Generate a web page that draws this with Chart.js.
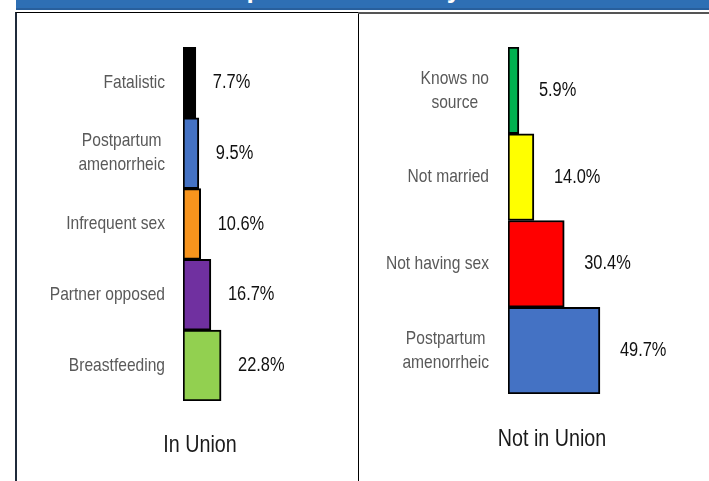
<!DOCTYPE html>
<html>
<head>
<meta charset="utf-8">
<script src="https://cdn.jsdelivr.net/npm/chart.js@4"></script>
<style>
  body { margin: 0; width: 709px; height: 481px; overflow: hidden; background: #fff; position: relative; font-family: "Liberation Sans", sans-serif; }
  #banner { position: absolute; left: 16px; top: 0; width: 693px; height: 8px; background: #2e6fb4; border-bottom: 2px solid #285f9c; overflow: hidden; }
  #banner span { position: absolute; left: 0; width: 100%; text-align: center; top: -24px; font: bold 26px "Liberation Sans", sans-serif; line-height: 26px; color: #fff; }
  #leftPanel { position: absolute; left: 15px; top: 12px; width: 341px; height: 480px; border-top: 1px solid #000; border-left: 2px solid #1f2a3a; border-right: 1px solid #000; }
  #rightPanel { position: absolute; left: 358px; top: 12px; width: 360px; height: 480px; border-top: 2px solid #555; }
  canvas { position: absolute; }
  .ptitle { position: absolute; font-size: 24px; color: #1a1a1a; text-align: center; width: 200px; transform: scaleX(0.82); }
</style>
</head>
<body>
<div id="banner"><span>Unexposed Women by Union</span></div>
<div id="leftPanel"></div>
<div id="rightPanel"></div>
<canvas id="inUnion" width="341" height="468" style="left:16px;top:13px"></canvas>
<canvas id="notInUnion" width="351" height="467" style="left:358px;top:14px"></canvas>
<div class="ptitle" style="left:100px;top:430px">In Union</div>
<div class="ptitle" style="left:452px;top:424px">Not in Union</div>
<script>
// Reasons women are not exposed, by union status
const inUnionLabels = [['Fatalistic'], ['Postpartum', 'amenorrheic'], ['Infrequent sex'], ['Partner opposed'], ['Breastfeeding']];
const inUnionValues = [7.7, 9.5, 10.6, 16.7, 22.8];
const inUnionColors = ['#000000', '#4472c4', '#f7941d', '#7030a0', '#92d050'];

const notInUnionLabels = [['Knows no', 'source'], ['Not married'], ['Not having sex'], ['Postpartum', 'amenorrheic']];
const notInUnionValues = [5.9, 14.0, 30.4, 49.7];
const notInUnionColors = ['#00b050', '#ffff00', '#ff0000', '#4472c4'];

const FONT = '"Liberation Sans", sans-serif';
const SQUEEZE = 0.82; // narrow look of the original face

function narrowText(c, t, x, y) {
    c.save();
    c.translate(x, y);
    c.scale(SQUEEZE, 1);
    c.fillText(t, 0, 0);
    c.restore();
}

// draws the category names left of the bars and the values right of them
const barText = {
    id: 'barText',
    afterDatasetsDraw(chart, args, opts) {
        const c = chart.ctx;
        const y = chart.scales.y;
        const meta = chart.getDatasetMeta(0);
        c.save();
        c.textBaseline = 'middle';
        chart.data.labels.forEach((lab, i) => {
            const cy = y.getPixelForValue(i);
            c.font = '19px ' + FONT;
            c.fillStyle = '#595959';
            const right = chart.chartArea.left - opts.gap;
            if (lab.length > 1) {
                const w = Math.max(...lab.map(t => c.measureText(t).width)) * SQUEEZE;
                c.textAlign = 'center';
                lab.forEach((t, k) => {
                    narrowText(c, t, right - w / 2, cy + (k - (lab.length - 1) / 2) * 24);
                });
            } else {
                c.textAlign = 'right';
                narrowText(c, lab[0], right, cy);
            }
            const bar = meta.data[i];
            c.font = '20px ' + FONT;
            c.fillStyle = '#111';
            c.textAlign = 'left';
            narrowText(c, chart.data.datasets[0].data[i].toFixed(1) + '%', bar.x + opts.valGap, cy);
        });
        c.restore();
    }
};

function makeChart(id, labels, values, colors, padding, gap, valGap) {
    return new Chart(document.getElementById(id), {
        type: 'bar',
        data: {
            labels: labels,
            datasets: [{
                data: values,
                backgroundColor: colors,
                borderColor: '#000',
                borderWidth: 2,
                borderSkipped: false,
                barPercentage: 1,
                categoryPercentage: 1
            }]
        },
        options: {
            indexAxis: 'y',
            responsive: false,
            animation: false,
            layout: { padding: padding },
            plugins: {
                legend: { display: false },
                tooltip: { enabled: false },
                barText: { gap: gap, valGap: valGap }
            },
            scales: {
                x: { display: false, min: 0, max: 100 },
                y: { display: false }
            }
        },
        plugins: [barText]
    });
}

makeChart('inUnion', inUnionLabels, inUnionValues, inUnionColors,
    { left: 167, top: 34, right: 7, bottom: 80 }, 18, 17);
makeChart('notInUnion', notInUnionLabels, notInUnionValues, notInUnionColors,
    { left: 150, top: 33, right: 16, bottom: 87 }, 19, 20);
</script>
</body>
</html>
